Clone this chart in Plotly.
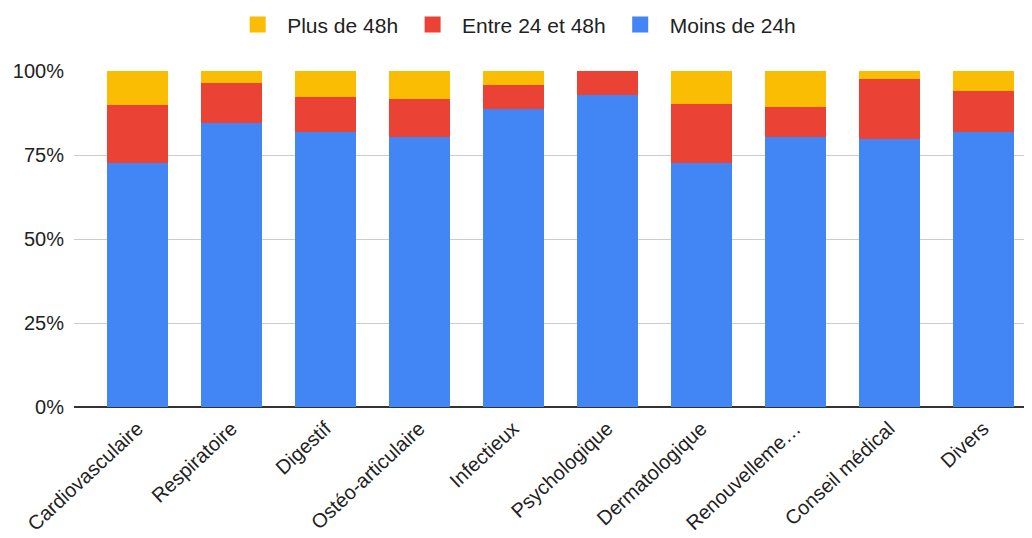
import plotly.graph_objects as go

categories = ["Cardiovasculaire", "Respiratoire", "Digestif", "Ostéo-articulaire", "Infectieux",
              "Psychologique", "Dermatologique", "Renouvelleme…", "Conseil médical", "Divers"]
moins_24h = [72.5, 84.4, 81.9, 80.4, 88.7, 92.9, 72.5, 80.4, 79.8, 81.9]
entre_24_48h = [17.3, 12.1, 10.5, 11.4, 7.2, 7.1, 17.8, 8.9, 17.8, 12.1]
plus_48h = [10.2, 3.5, 7.6, 8.2, 4.1, 0.0, 9.7, 10.7, 2.4, 6.0]
y_tick_vals = [0, 25, 50, 75, 100]
y_tick_text = ["0%", "25%", "50%", "75%", "100%"]

series = [("Moins de 24h", moins_24h, "#4285F4"),
          ("Entre 24 et 48h", entre_24_48h, "#EA4335"),
          ("Plus de 48h", plus_48h, "#FBBC04")]

FONT = "Liberation Sans, Arial, sans-serif"
TXT = "#222222"

fig = go.Figure()
for name, vals, col in series:
    fig.add_trace(go.Bar(x=categories, y=vals, name=name, marker_color=col,
                         marker_line_width=0, showlegend=False))
# legend entries with larger square swatches
for name, vals, col in series:
    fig.add_trace(go.Scatter(x=[None], y=[None], mode="markers", name=name,
                             marker=dict(symbol="square", size=20, color=col)))

fig.update_layout(
    width=1024, height=530,
    barmode="stack", bargap=0.35,
    margin=dict(l=66, r=0, t=63, b=131, autoexpand=False),
    paper_bgcolor="white", plot_bgcolor="white",
    font=dict(family=FONT, size=20, color=TXT),
    showlegend=True,
    legend=dict(orientation="h", traceorder="reversed", x=0.46, xanchor="center",
                y=1.137, yanchor="middle", itemwidth=49, itemsizing="trace",
                font=dict(size=21, color=TXT)),
    xaxis=dict(range=[-0.676, 9.52], tickangle=-43, showgrid=False, ticks="",
               automargin=False, ticklabelstandoff=5, tickfont=dict(size=20, color=TXT)),
    yaxis=dict(range=[0, 100], tickmode="array", tickvals=y_tick_vals, ticktext=y_tick_text,
               showgrid=True, gridcolor="#cccccc", gridwidth=1,
               zeroline=True, zerolinecolor="#333333", zerolinewidth=2,
               automargin=False, ticklabelstandoff=9, tickfont=dict(size=20, color=TXT)),
)

fig.write_html("out.html")
